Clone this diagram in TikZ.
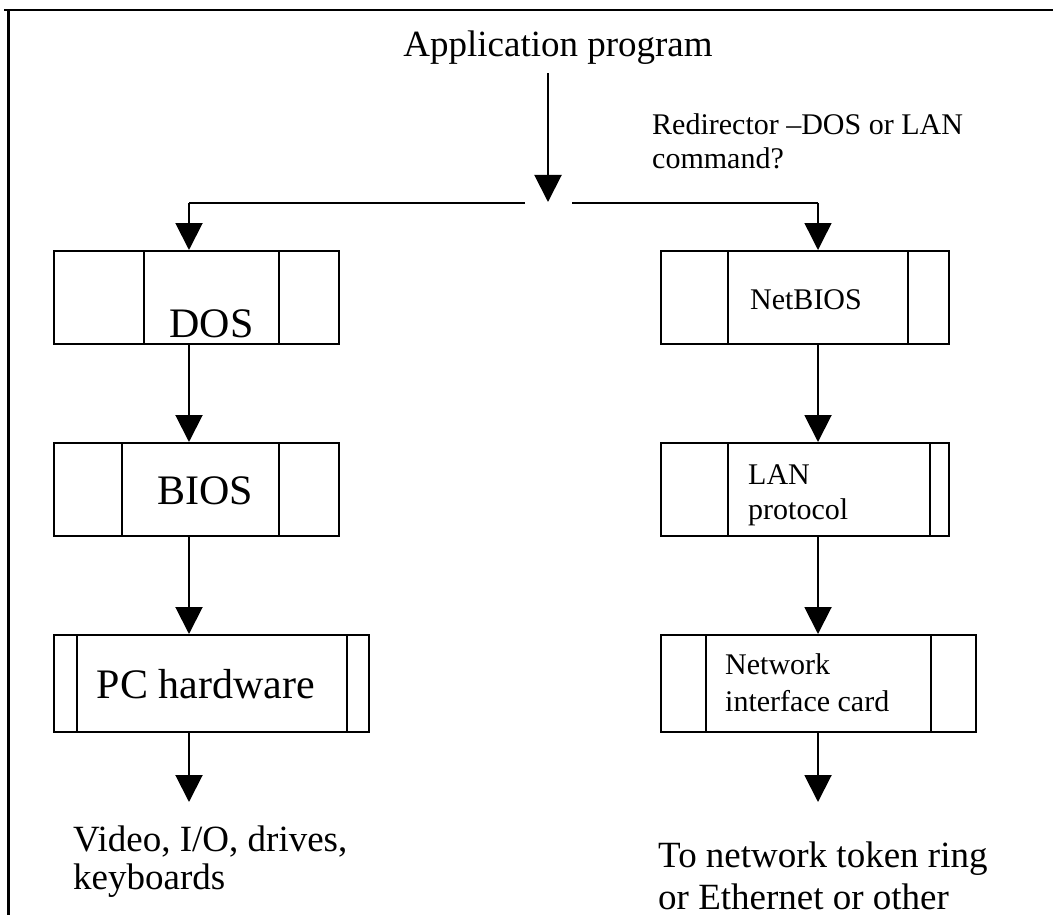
\documentclass[tikz,border=0pt]{standalone}
\usepackage{fontspec}
\setmainfont{Liberation Serif}
\usetikzlibrary{arrows.meta}
\begin{document}
\begin{tikzpicture}[x=1pt,y=-1pt,
  frame/.style={line width=2.6pt},
  conn/.style={line width=2pt},
  arr/.style={line width=2pt,-{Triangle[length=27pt,width=27pt]}},
  box/.style={draw,line width=2pt,inner sep=0pt,anchor=north west},
  big/.style={font=\fontsize{37}{38}\selectfont,inner sep=0pt},
  huge/.style={font=\fontsize{42}{48}\selectfont,inner sep=0pt},
  small/.style={font=\fontsize{30}{35}\selectfont,inner sep=0pt,align=left}]
\useasboundingbox (0,0) rectangle (1053,915);
% frame (top and left sides)
\draw[frame] (4,10) -- (1053,10);
\draw[frame] (8.5,10) -- (8.5,915);
% column coordinates
\coordinate (xl) at (189,0);
\coordinate (xr) at (818,0);
\coordinate (xm) at (548,0);
% title
\node[big,anchor=base] (app) at (558,57) {Application program};
\node[small,anchor=base west] (redir) at (652,169) {Redirector –DOS or LAN\\command?};
% split
\coordinate (split) at (548,202);
\coordinate (gl) at (525,203);
\coordinate (gr) at (572,203);
\coordinate (gt) at (637,203);
% boxes left
\node[box,minimum width=285pt,minimum height=93pt] (dos) at (53,250) {};
\draw[line width=2pt] (144,250) -- (144,343) (279,250) -- (279,343);
\node[huge,anchor=base] (dost) at (211.5,337) {DOS};
\node[box,minimum width=285pt,minimum height=93pt] (bios) at (53,442) {};
\draw[line width=2pt] (122,442) -- (122,535) (279,442) -- (279,535);
\node[huge,anchor=base] (biost) at (205,504) {BIOS};
\node[box,minimum width=315pt,minimum height=97pt] (pc) at (53,634) {};
\draw[line width=2pt] (77,634) -- (77,731) (347,634) -- (347,731);
\node[huge,anchor=base] (pct) at (206,698) {PC hardware};
% boxes right
\node[box,minimum width=288pt,minimum height=93pt] (net) at (660,250) {};
\draw[line width=2pt] (728,250) -- (728,343) (908,250) -- (908,343);
\node[small,anchor=base] (nett) at (806,309) {NetBIOS};
\node[box,minimum width=288pt,minimum height=93pt] (lan) at (660,442) {};
\draw[line width=2pt] (728,442) -- (728,535) (930,442) -- (930,535);
\node[small,anchor=base west] (lant) at (748,519) {LAN\\protocol};
\node[box,minimum width=315pt,minimum height=97pt] (nic) at (660,634) {};
\draw[line width=2pt] (706,634) -- (706,731) (931,634) -- (931,731);
\node[small,font=\fontsize{30}{37}\selectfont,anchor=base west] (nict) at (725,711) {Network\\interface card};
% bottom texts
\node[big,anchor=base west,align=left] (vid) at (73,889) {Video, I/O, drives,\\keyboards};
\node[big,font=\fontsize{37}{42}\selectfont,anchor=base west,align=left] (tonet) at (658,909) {To network token ring\\or Ethernet or other};
% connectors
\draw[arr] (app.south -| xm) ++(0,8) -- (split);
\draw[conn] (gl) -- (gl -| xl);
\draw[arr] (gl -| xl) -- (dos.north -| xl);
\draw[conn] (gr) -- (gt);
\draw[line width=1.3pt] (gt) -- (gt -| xr);
\draw[arr,line width=1.5pt] (gt -| xr) -- (net.north -| xr);
\draw[arr] (dos.south -| xl) -- (bios.north -| xl);
\draw[arr] (bios.south -| xl) -- (pc.north -| xl);
\coordinate (endl) at (189,802);
\coordinate (endr) at (818,802);
\draw[arr] (pc.south -| xl) -- (endl);
\draw[arr] (net.south -| xr) -- (lan.north -| xr);
\draw[arr] (lan.south -| xr) -- (nic.north -| xr);
\draw[arr] (nic.south -| xr) -- (endr);
\end{tikzpicture}
\end{document}
